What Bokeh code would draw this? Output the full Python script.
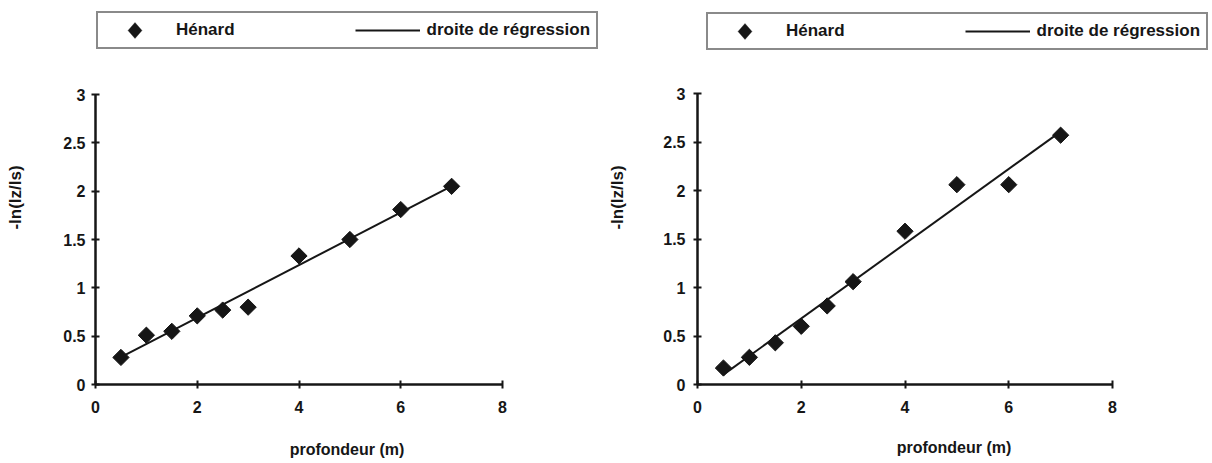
import numpy as np
from bokeh.plotting import figure
from bokeh.models import Range1d, Legend, LegendItem, FixedTicker, PolyAnnotation
from bokeh.layouts import row
from bokeh.embed import file_html
from bokeh.resources import INLINE

# Depth (m) and attenuation -ln(Iz/Is), Hénard measurements
depth = [0.5, 1, 1.5, 2, 2.5, 3, 4, 5, 6, 7]
attn_left = [0.28, 0.51, 0.55, 0.71, 0.77, 0.80, 1.33, 1.50, 1.81, 2.05]
attn_right = [0.17, 0.28, 0.43, 0.60, 0.81, 1.06, 1.58, 2.06, 2.06, 2.57]

x_ticks = [0, 2, 4, 6, 8]
y_ticks = [0, 0.5, 1, 1.5, 2, 2.5, 3]
X_MAX, Y_MAX = 8, 3

FONT = "Liberation Sans"
INK = "#161616"
HEIGHT = 463
TOP, BOTTOM = 10, 79

# legend box geometry (px)
LEG_PAD = 6
LEG_GLYPH_W = 65
LEG_ROW_H = 22


def panel(values, width, left, axis_px, legend_loc, y_label_standoff,
          y_title_standoff, x_title_standoff):
    right = 2
    frame_w = width - left - right
    frame_h = HEIGHT - TOP - BOTTOM
    # The frame also holds the legend box; the axes stop at 8 and 3.
    x_end = X_MAX * frame_w / axis_px[0]
    y_end = Y_MAX * frame_h / axis_px[1]
    p = figure(width=width, height=HEIGHT, output_backend="svg", toolbar_location=None,
               x_range=Range1d(0, x_end), y_range=Range1d(0, y_end),
               min_border_left=left, min_border_right=right,
               min_border_top=TOP, min_border_bottom=BOTTOM)
    p.outline_line_color = None
    p.xgrid.visible = False
    p.ygrid.visible = False
    p.background_fill_color = "white"
    p.border_fill_color = "white"

    for ax in (p.xaxis[0], p.yaxis[0]):
        ax.axis_line_width = 2.5
        ax.axis_line_color = INK
        ax.major_tick_line_width = 2
        ax.major_tick_line_color = INK
        ax.major_tick_in = 4
        ax.major_tick_out = 4
        ax.minor_tick_line_color = None
        ax.major_label_text_font = FONT
        ax.major_label_text_font_style = "bold"
        ax.major_label_text_font_size = "16px"
        ax.major_label_text_color = INK
        ax.axis_label_text_font = FONT
        ax.axis_label_text_font_style = "bold"
        ax.axis_label_text_color = INK

    p.xaxis.bounds = (0, X_MAX)
    p.yaxis.bounds = (0, Y_MAX)
    p.xaxis.ticker = FixedTicker(ticks=x_ticks)
    p.yaxis.ticker = FixedTicker(ticks=y_ticks)
    p.xaxis.major_label_standoff = 12
    p.yaxis.major_label_standoff = y_label_standoff
    p.xaxis.axis_label = "profondeur (m)"
    p.yaxis.axis_label = "-ln(Iz/Is)"
    p.xaxis.axis_label_text_font_size = "16px"
    p.yaxis.axis_label_text_font_size = "17px"
    p.xaxis.axis_label_standoff = x_title_standoff
    p.yaxis.axis_label_standoff = y_title_standoff

    # least-squares regression line over the measured depth span
    slope, intercept = np.polyfit(depth, values, 1)
    fit_x = [min(depth), max(depth)]
    fit_y = [slope * x + intercept for x in fit_x]
    line_r = p.line(fit_x, fit_y, line_color=INK, line_width=2)

    pts_r = p.scatter(depth, values, marker="square", angle=np.pi / 4, size=11.5,
                      fill_color=INK, line_color=INK)

    # Legend swatches ignore marker angle, so the Hénard entry gets a blank
    # swatch and a rotated-square polygon is placed in its slot.
    blank = p.scatter(x=[], y=[], marker="square", fill_alpha=0, line_alpha=0)
    legend = Legend(items=[LegendItem(label="Hénard", renderers=[blank]),
                           LegendItem(label="droite de régression", renderers=[line_r])],
                    orientation="horizontal", location=legend_loc, margin=0,
                    level="annotation",
                    glyph_width=LEG_GLYPH_W, glyph_height=LEG_ROW_H,
                    label_height=LEG_ROW_H, label_standoff=7, spacing=120,
                    padding=LEG_PAD,
                    border_line_color=INK, border_line_width=2,
                    background_fill_alpha=0,
                    label_text_font=FONT, label_text_font_style="bold",
                    label_text_font_size="17px", label_text_color=INK)
    p.add_layout(legend, "center")

    # screen units here are frame-relative, y measured upward like the legend location;
    # the small lift puts the swatch on the label's centre line
    box_h = 2 * LEG_PAD + LEG_ROW_H
    cx = legend_loc[0] + LEG_PAD + LEG_GLYPH_W / 2
    cy = legend_loc[1] + box_h / 2 + 2
    hw, hh = 7, 8
    swatch = PolyAnnotation(xs=[cx - hw, cx, cx + hw, cx], ys=[cy, cy - hh, cy, cy + hh],
                            xs_units="screen", ys_units="screen", level="overlay",
                            fill_color=INK, fill_alpha=1, line_color=INK, line_width=1)
    p.add_layout(swatch)
    return p


p_left = panel(attn_left, 600, 95, (407, 290), (1, 335), 6, 35, 25)
p_right = panel(attn_right, 612, 97, (415, 291), (9, 334), 8, 33, 23)

layout = row(p_left, p_right)
open("out.html", "w").write(file_html(layout, INLINE))
